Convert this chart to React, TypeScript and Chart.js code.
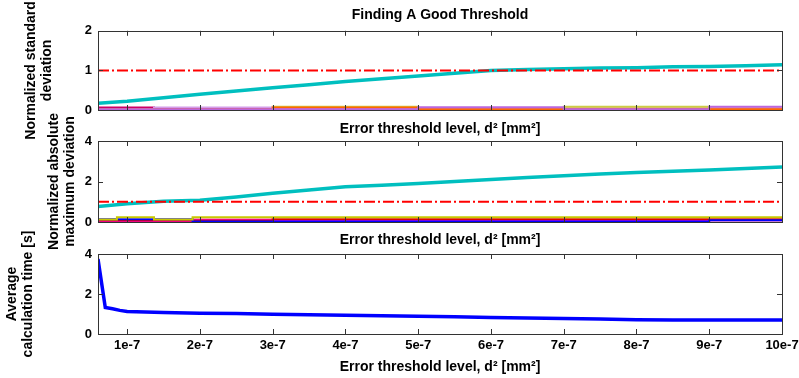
import React, { useEffect, useRef } from 'react';
import { Chart, registerables } from 'chart.js';

Chart.register(...registerables);

const FONT = "'Liberation Sans', Arial, Helvetica, sans-serif";

// ---- axes / text ----
const X_MIN = 0.6e-7;
const X_MAX = 10e-7;
const xTickValues = [1e-7, 2e-7, 3e-7, 4e-7, 5e-7, 6e-7, 7e-7, 8e-7, 9e-7, 10e-7];
const xTickLabels = ['1e-7', '2e-7', '3e-7', '4e-7', '5e-7', '6e-7', '7e-7', '8e-7', '9e-7', '10e-7'];

const chartTitle = 'Finding A Good Threshold';
const xAxisTitle = 'Error threshold level, d\u00B2 [mm\u00B2]';
const stdTitle = ['Normalized standard', 'deviation'];
const devTitle = ['Normalized absolute', 'maximum deviation'];
const timeTitle = ['Average', 'calculation time [s]'];

const stdTicks = [0, 1, 2];
const devTicks = [0, 2, 4];
const timeTicks = [0, 2, 4];

// ---- reference level (dash-dot) ----
const refX = [0.6e-7, 10e-7];
const refY = [1, 1];

// ---- main trend (cyan) ----
const trendX = [0.6e-7, 1e-7, 1.5e-7, 2e-7, 2.5e-7, 3e-7, 3.5e-7, 4e-7, 4.5e-7, 5e-7,
  5.5e-7, 6e-7, 6.5e-7, 7e-7, 7.5e-7, 8e-7, 8.5e-7, 9e-7, 9.5e-7, 10e-7];
const stdCyan = [0.17, 0.22, 0.31, 0.40, 0.48, 0.56, 0.64, 0.72, 0.79, 0.86,
  0.93, 1.00, 1.02, 1.04, 1.06, 1.07, 1.09, 1.10, 1.12, 1.14];
const devCyan = [0.76, 0.90, 1.03, 1.08, 1.24, 1.42, 1.58, 1.74, 1.82, 1.90,
  2.00, 2.10, 2.20, 2.29, 2.37, 2.44, 2.51, 2.57, 2.64, 2.72];

// ---- low-level bundle, top panel ----
const stdBandX = [0.6e-7, 1.37e-7, 3e-7, 5e-7, 7e-7, 9e-7, 10e-7];
const stdRed = [0.03, 0.03, 0.03, 0.03, 0.03, 0.03, 0.03];
const stdPink = [0.03, 0.05, 0.05, 0.05, 0.05, 0.05, 0.05];
const stdYellow = [0.03, 0.03, 0.08, 0.03, 0.08, 0.03, 0.03];
const stdCrimson = [0.06, 0.02, 0.02, 0.02, 0.02, 0.02, 0.02];
const stdOrchid = [0.02, 0.06, 0.02, 0.02, 0.02, 0.02, 0.02];
const stdOrange = [0.02, 0.02, 0.06, 0.02, 0.02, 0.02, 0.02];
const stdPurple = [0.02, 0.02, 0.02, 0.07, 0.02, 0.08, 0.08];

// ---- low-level bundle, middle panel ----
const devBandX = [0.6e-7, 0.86e-7, 1.37e-7, 1.9e-7, 3e-7, 7e-7, 9e-7, 10e-7];
const devYellow = [0.12, 0.24, 0.12, 0.24, 0.24, 0.24, 0.24, 0.24];
const devBlue = [0.13, 0.13, 0.13, 0.03, 0.03, 0.03, 0.09, 0.09];
const devRed = [0.07, 0.07, 0.07, 0.07, 0.14, 0.14, 0.14, 0.14];
const devMagenta = [0.05, 0.05, 0.05, 0.10, 0.10, 0.10, 0.10, 0.10];
const devPink = [0.03, 0.03, 0.03, 0.17, 0.05, 0.08, 0.05, 0.05];
const devGreen = [0.02, 0.02, 0.02, 0.02, 0.05, 0.05, 0.02, 0.02];

// ---- calculation time ----
const timeX = [0.6e-7, 0.7e-7, 0.8e-7, 0.9e-7, 1e-7, 1.5e-7, 2e-7, 2.5e-7, 3e-7, 3.5e-7,
  4e-7, 4.5e-7, 5e-7, 5.5e-7, 6e-7, 6.5e-7, 7e-7, 7.5e-7, 8e-7, 8.5e-7, 9e-7, 9.5e-7, 10e-7];
const timeY = [3.75, 1.32, 1.26, 1.18, 1.12, 1.07, 1.04, 1.02, 0.99, 0.96,
  0.94, 0.91, 0.89, 0.86, 0.83, 0.80, 0.78, 0.75, 0.71, 0.70, 0.70, 0.70, 0.70];

const pts = (xs: number[], ys: number[]) => xs.map((x, i) => ({ x, y: ys[i] }));

const line = (xs: number[], ys: number[], color: string, width: number, extra: any = {}) => ({
  data: pts(xs, ys),
  borderColor: color,
  backgroundColor: color,
  borderWidth: width,
  pointRadius: 0,
  tension: 0,
  fill: false,
  ...extra,
});

const refLine = () => line(refX, refY, '#ff0000', 2, { borderDash: [11, 3, 2, 3] });

const framePlugin = {
  id: 'frame',
  afterDatasetsDraw(chart: any) {
    const { ctx, chartArea: a, scales } = chart;
    const xs = scales.x;
    const ys = scales.y;
    ctx.save();
    ctx.strokeStyle = '#333333';
    ctx.lineWidth = 1;
    ctx.beginPath();
    xs.ticks.forEach((t: any) => {
      const px = Math.round(xs.getPixelForValue(t.value)) + 0.5;
      if (px > a.right - 2) return;
      ctx.moveTo(px, a.bottom);
      ctx.lineTo(px, a.bottom - 5);
      ctx.moveTo(px, a.top);
      ctx.lineTo(px, a.top + 5);
    });
    ys.ticks.forEach((t: any) => {
      const py = Math.round(ys.getPixelForValue(t.value)) + 0.5;
      if (py > a.bottom - 2 || py < a.top + 2) return;
      ctx.moveTo(a.left, py);
      ctx.lineTo(a.left + 5, py);
      ctx.moveTo(a.right, py);
      ctx.lineTo(a.right - 5, py);
    });
    ctx.stroke();
    ctx.strokeRect(Math.round(a.left) + 0.5, Math.round(a.top) + 0.5,
      Math.round(a.right - a.left), Math.round(a.bottom - a.top));
    ctx.restore();
  },
};

type PanelOpts = {
  datasets: any[];
  yMax: number;
  yTicks: number[];
  yTitle: string[];
  yTitlePad: number;
  padTop: number;
  padBottom: number;
  xHeight: number;
  showXTicks: boolean;
  xTitlePadBottom: number;
  title?: string;
};

const buildConfig = (o: PanelOpts): any => ({
  type: 'line',
  data: { datasets: o.datasets },
  plugins: [framePlugin],
  options: {
    responsive: false,
    animation: false,
    devicePixelRatio: 1,
    layout: { padding: { left: 0, right: 17, top: o.padTop, bottom: o.padBottom } },
    plugins: {
      legend: { display: false },
      tooltip: { enabled: false },
      title: o.title
        ? {
            display: true,
            text: o.title,
            fullSize: false,
            color: '#000',
            font: { family: FONT, size: 14, weight: 'bold', lineHeight: 1.2 },
            padding: { top: 7, bottom: 7 },
          }
        : { display: false },
    },
    scales: {
      x: {
        type: 'linear',
        min: X_MIN,
        max: X_MAX,
        afterBuildTicks: (s: any) => {
          s.ticks = xTickValues.map((v) => ({ value: v }));
        },
        afterFit: (s: any) => {
          s.height = o.xHeight;
          s.paddingLeft = 0;
          s.paddingRight = 0;
        },
        ticks: {
          display: o.showXTicks,
          autoSkip: false,
          maxRotation: 0,
          padding: 4,
          color: '#000',
          font: { family: FONT, size: 13, weight: 'bold' },
          callback: (v: number) => {
            const i = xTickValues.findIndex((t) => Math.abs(t - v) < 1e-12);
            return i >= 0 ? xTickLabels[i] : '';
          },
        },
        grid: { display: false, drawTicks: false },
        border: { display: false },
        title: {
          display: true,
          text: xAxisTitle,
          color: '#000',
          font: { family: FONT, size: 14, weight: 'bold', lineHeight: 1.2 },
          padding: { top: 0, bottom: o.xTitlePadBottom },
        },
      },
      y: {
        min: 0,
        max: o.yMax,
        afterBuildTicks: (s: any) => {
          s.ticks = o.yTicks.map((v) => ({ value: v }));
        },
        afterFit: (s: any) => {
          s.width = 98;
          s.paddingTop = 0;
          s.paddingBottom = 0;
        },
        ticks: {
          padding: 6,
          color: '#000',
          font: { family: FONT, size: 13, weight: 'bold' },
        },
        grid: { display: false, drawTicks: false },
        border: { display: false },
        title: {
          display: true,
          text: o.yTitle,
          color: '#000',
          font: { family: FONT, size: 14, weight: 'bold', lineHeight: 1.15 },
          padding: { top: o.yTitlePad, bottom: 0 },
        },
      },
    },
  },
});

function Panel({ opts }: { opts: PanelOpts }) {
  const ref = useRef<HTMLCanvasElement>(null);
  useEffect(() => {
    const chart = new Chart(ref.current as HTMLCanvasElement, buildConfig(opts));
    return () => chart.destroy();
  }, []);
  return (
    <canvas
      ref={ref}
      width={799}
      height={378}
      style={{ position: 'absolute', left: 0, top: 0, display: 'block', width: 799, height: 378 }}
    />
  );
}

const stdOpts: PanelOpts = {
  title: chartTitle,
  datasets: [
    refLine(),
    line(trendX, stdCyan, '#00bfbf', 3.5),
    line(stdBandX, stdPurple, '#bb66dd', 2, { stepped: true }),
    line(stdBandX, stdOrange, '#ff6600', 2, { stepped: true }),
    line(stdBandX, stdOrchid, '#d49be8', 2, { stepped: true }),
    line(stdBandX, stdCrimson, '#cc0066', 2, { stepped: true }),
    line(stdBandX, stdYellow, '#cccc44', 2, { stepped: true }),
    line(stdBandX, stdPink, '#ff99bb', 2, { stepped: true }),
    line(stdBandX, stdRed, '#ee2222', 2, { stepped: true }),
  ],
  yMax: 2,
  yTicks: stdTicks,
  yTitle: stdTitle,
  yTitlePad: 23,
  padTop: 0,
  padBottom: 240,
  xHeight: 28,
  showXTicks: false,
  xTitlePadBottom: 0,
};

const devOpts: PanelOpts = {
  datasets: [
    refLine(),
    line(trendX, devCyan, '#00bfbf', 3.5),
    line(devBandX, devYellow, '#c8c800', 2, { stepped: true }),
    line(devBandX, devBlue, '#0000ff', 2, { stepped: true }),
    line(devBandX, devRed, '#e00000', 2, { stepped: true }),
    line(devBandX, devMagenta, '#ff00ff', 2, { stepped: true }),
    line(devBandX, devPink, '#ff9fc8', 2, { stepped: true }),
    line(devBandX, devGreen, '#4f9a4f', 2, { stepped: true }),
  ],
  yMax: 4,
  yTicks: devTicks,
  yTitle: devTitle,
  yTitlePad: 46,
  padTop: 141,
  padBottom: 129,
  xHeight: 27,
  showXTicks: false,
  xTitlePadBottom: 0,
};

const timeOpts: PanelOpts = {
  datasets: [line(timeX, timeY, '#0000ff', 3.5)],
  yMax: 4,
  yTicks: timeTicks,
  yTitle: timeTitle,
  yTitlePad: 4,
  padTop: 254,
  padBottom: 0,
  xHeight: 44,
  showXTicks: true,
  xTitlePadBottom: 2,
};

export default function App() {
  return (
    <div style={{ position: 'fixed', left: 0, top: 0, width: 799, height: 378, background: '#fff' }}>
      <Panel opts={stdOpts} />
      <Panel opts={devOpts} />
      <Panel opts={timeOpts} />
    </div>
  );
}
